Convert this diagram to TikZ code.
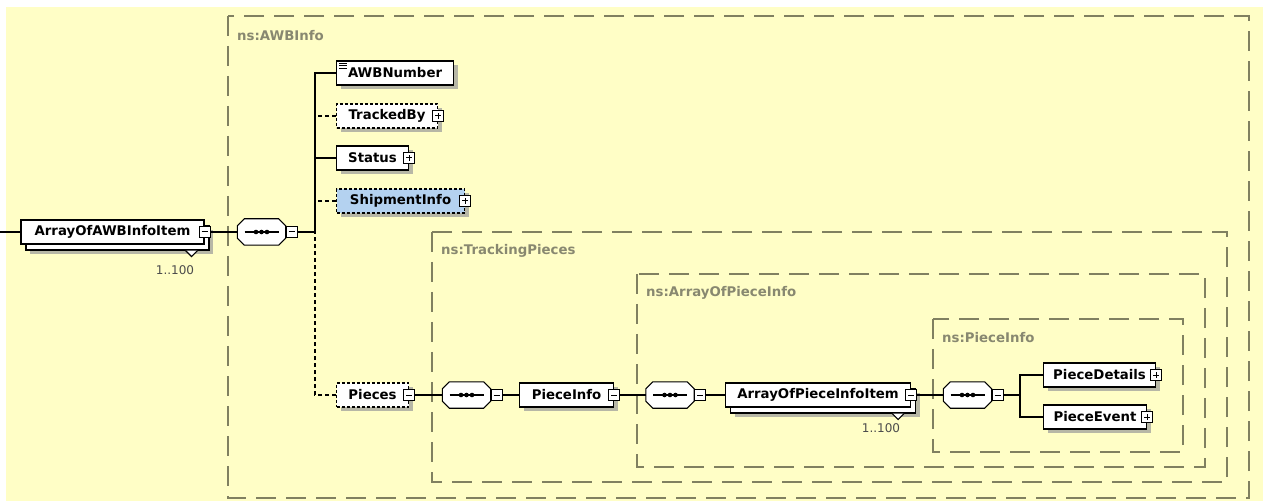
\documentclass[tikz,border=0pt]{standalone}
\usepackage{fontspec}
\setmainfont{DejaVu Sans}
\usepackage{tikz}
\usetikzlibrary{shadows, calc, positioning}

\definecolor{schemabg}{RGB}{255,254,198}
\definecolor{typeline}{RGB}{128,128,96}
\definecolor{typetext}{RGB}{136,136,112}
\definecolor{chosenfill}{RGB}{180,210,240}

\begin{document}
\begin{tikzpicture}[
    x=1pt, y=-1pt,
    box/.style={rectangle, draw, line width=1.1pt, fill=white, minimum height=24pt, inner sep=0pt, font=\fontsize{13.3}{15}\selectfont\bfseries},
    elem/.style={box, drop shadow={shadow xshift=4pt, shadow yshift=-4pt, fill=black!40, opacity=0.7}},
    optelem/.style={elem, dash pattern=on 3pt off 2pt},
    multielem/.style={box, drop shadow={shadow xshift=9pt, shadow yshift=-10pt, fill=black!40, opacity=0.7}, copy shadow={shadow xshift=5pt, shadow yshift=-6pt, opacity=1}},
    seq/.style={rectangle, minimum width=48pt, minimum height=26pt, inner sep=0pt},
    seqshadow/.style={fill=black!40, opacity=0.7},
    seqbody/.style={draw, fill=white, line width=1.1pt},
    togbox/.style={rectangle, draw, fill=white, line width=1pt, minimum size=11pt, inner sep=0pt},
    togminus/.style={togbox, path picture={\draw[line width=1pt] ([xshift=-3pt]path picture bounding box.center) -- ([xshift=3pt]path picture bounding box.center);}},
    togplus/.style={togbox, path picture={\draw[line width=1pt] ([xshift=-3pt]path picture bounding box.center) -- ([xshift=3pt]path picture bounding box.center) ([yshift=-3pt]path picture bounding box.center) -- ([yshift=3pt]path picture bounding box.center);}},
    conn/.style={line width=1.1pt},
    optconn/.style={line width=1.1pt, dash pattern=on 4pt off 3pt},
    typebox/.style={draw=typeline, line width=1.2pt, dash pattern=on 20pt off 10pt},
    typelbl/.style={anchor=west, text=typetext, inner sep=0pt, font=\fontsize{13.3}{15}\selectfont\bfseries},
    countlbl/.style={inner sep=0pt, text=black!70, font=\fontsize{12}{14}\selectfont}
]

\useasboundingbox (0,0) rectangle (1263,502);
\fill[schemabg] (6,7) rectangle (1263,501);

% complex types
\draw[typebox] (228,16) rectangle (1249,498);
\node[typelbl] (awbinfolbl) at (237,36) {ns:AWBInfo};
\draw[typebox] (432,232) rectangle (1227,482);
\node[typelbl] (trackinglbl) at (441,251) {ns:TrackingPieces};
\draw[typebox] (637,274) rectangle (1205,467);
\node[typelbl] (arrayinfolbl) at (646,293) {ns:ArrayOfPieceInfo};
\draw[typebox] (933,319) rectangle (1183,452);
\node[typelbl] (pieceinfolbl) at (942,338) {ns:PieceInfo};

% sequence compositors
\node[seq] (seq1) at (261.5,232) {};
\node[seq] (seq2) at (466.5,395) {};
\node[seq] (seq3) at (670,395) {};
\node[seq] (seq4) at (967.5,395) {};
\foreach \s in {seq1,seq2,seq3,seq4} {
    \foreach \sh/\st in {4/seqshadow, 0/seqbody}
        \path[\st, shift={(\sh,\sh)}]
            ($(\s.north west)+(7,0)$) -- ($(\s.north east)+(-7,0)$) -- ($(\s.north east)+(0,7)$)
            -- ($(\s.south east)+(0,-7)$) -- ($(\s.south east)+(-7,0)$) -- ($(\s.south west)+(7,0)$)
            -- ($(\s.south west)+(0,-7)$) -- ($(\s.north west)+(0,7)$) -- cycle;
    \draw[line width=1.1pt] ($(\s.center)+(-17,0)$) -- ($(\s.center)+(17,0)$);
    \foreach \d in {-5.5,0,5.5}
        \fill ($(\s.center)+(\d,0)$) circle (2.3pt);
}

% root element
\coordinate (inlet) at (0,232);
\node[multielem, minimum width=183pt] (item) at (112.5,232) {ArrayOfAWBInfoItem};
\node[togminus] (itemtog) at (item.east) {};
\filldraw[fill=white, line width=1.1pt] ($(item.south east)+(-19,6)$) -- ++(6,6) -- ++(6,-6);
\node[countlbl] (itemcount) at (175,270) {1..100};

\node[togminus, anchor=west] (seq1tog) at (seq1.east) {};
\coordinate (trunk) at (315,232);

% children of AWBInfo
\node[elem, minimum width=117pt, anchor=west] (awbnum) at (336,73) {AWBNumber};
\foreach \k in {2.5,5,7.5}
    \draw[line width=0.8pt] ($(awbnum.north west)+(3,\k)$) -- ++(8,0);
\node[optelem, minimum width=101pt, anchor=west] (tracked) at (336,116) {TrackedBy};
\node[togplus] (trackedtog) at (tracked.east) {};
\node[elem, minimum width=72pt, anchor=west] (status) at (336,158) {Status};
\node[togplus] (statustog) at (status.east) {};
\node[optelem, fill=chosenfill, minimum width=128pt, anchor=west] (shipinfo) at (336,201) {ShipmentInfo};
\node[togplus] (shipinfotog) at (shipinfo.east) {};
\node[optelem, minimum width=72pt, anchor=west] (pieces) at (336,395) {Pieces};
\node[togminus] (piecestog) at (pieces.east) {};

% pieces branch
\node[togminus, anchor=west] (seq2tog) at (seq2.east) {};
\node[elem, minimum width=94pt, anchor=west] (pinfo) at (519,395) {PieceInfo};
\node[togminus] (pinfotog) at (pinfo.east) {};
\node[togminus, anchor=west] (seq3tog) at (seq3.east) {};
\node[multielem, minimum width=185pt, anchor=west] (pitem) at (725,395) {ArrayOfPieceInfoItem};
\node[togminus] (pitemtog) at (pitem.east) {};
\filldraw[fill=white, line width=1.1pt] ($(pitem.south east)+(-19,6)$) -- ++(6,6) -- ++(6,-6);
\node[countlbl] (pitemcount) at (881,428) {1..100};
\node[togminus, anchor=west] (seq4tog) at (seq4.east) {};
\coordinate (fork) at (1020,395);
\node[elem, minimum width=112pt, anchor=west] (pdetails) at (1043,375) {PieceDetails};
\node[togplus] (pdetailstog) at (pdetails.east) {};
\node[elem, minimum width=103pt, anchor=west] (pevent) at (1043,417) {PieceEvent};
\node[togplus] (peventtog) at (pevent.east) {};

% connectors
\draw[conn] (inlet) -- (item.west);
\draw[conn] (itemtog.east) -- (seq1.west);
\draw[conn] (seq1tog.east) -- (trunk);
\draw[conn] (awbnum.west) -| (trunk);
\draw[conn] (status.west) -| (trunk);
\draw[optconn] (tracked.west) -- (tracked.west -| trunk);
\draw[optconn] (shipinfo.west) -- (shipinfo.west -| trunk);
\draw[optconn] (pieces.west) -| (trunk);
\draw[conn] (piecestog.east) -- (seq2.west);
\draw[conn] (seq2tog.east) -- (pinfo.west);
\draw[conn] (pinfotog.east) -- (seq3.west);
\draw[conn] (seq3tog.east) -- (pitem.west);
\draw[conn] (pitemtog.east) -- (seq4.west);
\draw[conn] (seq4tog.east) -- (fork);
\draw[conn] (fork) |- (pdetails.west);
\draw[conn] (fork) |- (pevent.west);

\end{tikzpicture}
\end{document}
